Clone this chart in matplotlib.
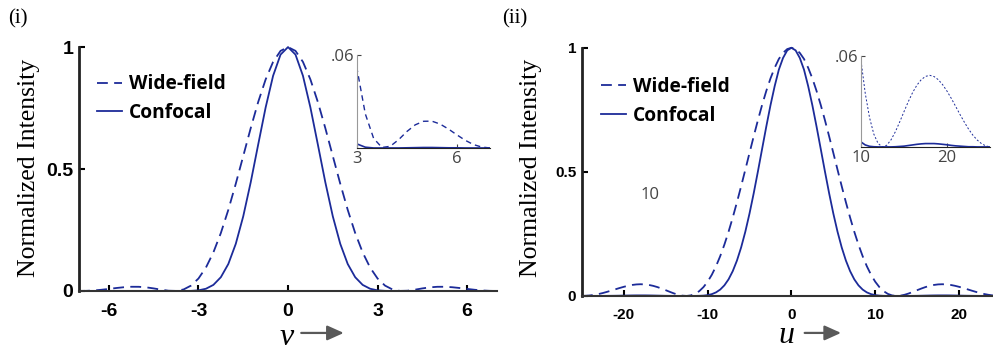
import numpy as np
import matplotlib
matplotlib.use("Agg")
import matplotlib.pyplot as plt

# lateral profile, panel (i)
v = [-7.0, -6.75, -6.5, -6.25, -6.0, -5.75, -5.5, -5.25, -5.0, -4.75, -4.5, -4.25, -4.0,
     -3.75, -3.5, -3.25, -3.0, -2.75, -2.5, -2.25, -2.0, -1.75, -1.5, -1.25, -1.0,
     -0.75, -0.5, -0.25, 0.0, 0.25, 0.5, 0.75, 1.0, 1.25, 1.5, 1.75, 2.0, 2.25, 2.5,
     2.75, 3.0, 3.25, 3.5, 3.75, 4.0, 4.25, 4.5, 4.75, 5.0, 5.25, 5.5, 5.75, 6.0,
     6.25, 6.5, 6.75, 7.0]
wide_v = [0.0000, 0.0006, 0.0022, 0.0050, 0.0085, 0.0122, 0.0154, 0.0173, 0.0172, 0.0149,
          0.0106, 0.0053, 0.0011, 0.0003, 0.0062, 0.0220, 0.0511, 0.0960, 0.1582, 0.2376,
          0.3326, 0.4397, 0.5533, 0.6675, 0.7746, 0.8673, 0.9393, 0.9845, 1.0000, 0.9845,
          0.9393, 0.8673, 0.7746, 0.6675, 0.5533, 0.4397, 0.3326, 0.2376, 0.1582, 0.0960,
          0.0511, 0.0220, 0.0062, 0.0003, 0.0011, 0.0053, 0.0106, 0.0149, 0.0172, 0.0173,
          0.0154, 0.0122, 0.0085, 0.0050, 0.0022, 0.0006, 0.0000]
conf_v = [0.0000, 0.0000, 0.0000, 0.0000, 0.0001, 0.0001, 0.0002, 0.0003, 0.0003, 0.0002,
          0.0001, 0.0000, 0.0000, 0.0000, 0.0000, 0.0005, 0.0026, 0.0092, 0.0250, 0.0565,
          0.1106, 0.1933, 0.3062, 0.4455, 0.6000, 0.7523, 0.8823, 0.9693, 1.0000, 0.9693,
          0.8823, 0.7523, 0.6000, 0.4455, 0.3062, 0.1933, 0.1106, 0.0565, 0.0250, 0.0092,
          0.0026, 0.0005, 0.0000, 0.0000, 0.0000, 0.0000, 0.0001, 0.0002, 0.0003, 0.0003,
          0.0002, 0.0001, 0.0001, 0.0000, 0.0000, 0.0000, 0.0000]

# axial profile, panel (ii)
u = [-25, -24.5, -24, -23.5, -23, -22.5, -22, -21.5, -21, -20.5,
     -20, -19.5, -19, -18.5, -18, -17.5, -17, -16.5, -16, -15.5,
     -15, -14.5, -14, -13.5, -13, -12.5, -12, -11.5, -11, -10.5,
     -10, -9.5, -9, -8.5, -8, -7.5, -7, -6.5, -6, -5.5,
     -5, -4.5, -4, -3.5, -3, -2.5, -2, -1.5, -1, -0.5,
     0,
     0.5, 1, 1.5, 2, 2.5, 3, 3.5, 4, 4.5, 5,
     5.5, 6, 6.5, 7, 7.5, 8, 8.5, 9, 9.5, 10,
     10.5, 11, 11.5, 12, 12.5, 13, 13.5, 14, 14.5, 15,
     15.5, 16, 16.5, 17, 17.5, 18, 18.5, 19, 19.5, 20,
     20.5, 21, 21.5, 22, 22.5, 23, 23.5, 24, 24.5, 25]
wide_u = [0.0000, 0.0007, 0.0022, 0.0046, 0.0078, 0.0118, 0.0165, 0.0215, 0.0268, 0.0320,
          0.0368, 0.0410, 0.0443, 0.0464, 0.0472, 0.0465, 0.0443, 0.0407, 0.0358, 0.0298,
          0.0232, 0.0164, 0.0100, 0.0047, 0.0011, 0.0000, 0.0022, 0.0084, 0.0193, 0.0354,
          0.0573, 0.0853, 0.1196, 0.1601, 0.2067, 0.2589, 0.3162, 0.3776, 0.4422, 0.5089,
          0.5764, 0.6432, 0.7081, 0.7695, 0.8260, 0.8764, 0.9194, 0.9550, 0.9793, 0.9948,
          1.0000,
          0.9948, 0.9793, 0.9550, 0.9194, 0.8764, 0.8260, 0.7695, 0.7081, 0.6432, 0.5764,
          0.5089, 0.4422, 0.3776, 0.3162, 0.2589, 0.2067, 0.1601, 0.1196, 0.0853, 0.0573,
          0.0354, 0.0193, 0.0084, 0.0022, 0.0000, 0.0011, 0.0047, 0.0100, 0.0164, 0.0232,
          0.0298, 0.0358, 0.0407, 0.0443, 0.0465, 0.0472, 0.0464, 0.0443, 0.0410, 0.0368,
          0.0320, 0.0268, 0.0215, 0.0165, 0.0118, 0.0078, 0.0046, 0.0022, 0.0007, 0.0000]
conf_u = [0.0000, 0.0000, 0.0000, 0.0000, 0.0001, 0.0001, 0.0003, 0.0005, 0.0007, 0.0010,
          0.0014, 0.0017, 0.0020, 0.0022, 0.0022, 0.0022, 0.0020, 0.0017, 0.0013, 0.0009,
          0.0005, 0.0003, 0.0001, 0.0000, 0.0000, 0.0000, 0.0000, 0.0001, 0.0004, 0.0013,
          0.0033, 0.0073, 0.0143, 0.0256, 0.0427, 0.0670, 0.1000, 0.1426, 0.1956, 0.2590,
          0.3322, 0.4137, 0.5014, 0.5921, 0.6823, 0.7681, 0.8453, 0.9120, 0.9591, 0.9896,
          1.0000,
          0.9896, 0.9591, 0.9120, 0.8453, 0.7681, 0.6823, 0.5921, 0.5014, 0.4137, 0.3322,
          0.2590, 0.1956, 0.1426, 0.1000, 0.0670, 0.0427, 0.0256, 0.0143, 0.0073, 0.0033,
          0.0013, 0.0004, 0.0001, 0.0000, 0.0000, 0.0000, 0.0000, 0.0001, 0.0003, 0.0005,
          0.0009, 0.0013, 0.0017, 0.0020, 0.0022, 0.0022, 0.0022, 0.0020, 0.0017, 0.0014,
          0.0010, 0.0007, 0.0005, 0.0003, 0.0001, 0.0001, 0.0000, 0.0000, 0.0000, 0.0000]

panels = [
    dict(x=v, wide=wide_v, conf=conf_v, xlim=(-7, 7), xticks=[-6, -3, 0, 3, 6],
         xname="v", tag="(i)", inset_xlim=(3, 7), inset_xticks=[3, 6]),
    dict(x=u, wide=wide_u, conf=conf_u, xlim=(-25, 25), xticks=[-20, -10, 0, 10, 20],
         xname="u", tag="(ii)", inset_xlim=(10, 25), inset_xticks=[10, 20]),
]

blue = "#1c2b99"
tick_font = ["Liberation Sans Narrow", "Liberation Sans"]

fig = plt.figure(figsize=(9.93, 3.54), dpi=100)

main_rects = [[0.0796, 0.178, 0.4209, 0.689], [0.586, 0.164, 0.422, 0.701]]
inset_rects = [[0.3595, 0.582, 0.134, 0.263], [0.867, 0.585, 0.130, 0.257]]
tick_sizes = [14, 11]
leg_pos = [(0.002, 0.959), (0.0036, 0.952)]
ylab_pos = [(-0.093, 0.504), (-0.095, 0.516)]
xlab_x = [0.4976, 0.489]
xlab_y = [-0.222, -0.19]
arrow_y = [-0.172, -0.149]
arrow_x = [(0.525, 0.64), (0.525, 0.625)]
tag_x = [0.008, 0.506]

for k, p in enumerate(panels):
    ax = fig.add_axes(main_rects[k])
    ax.plot(p["x"], p["wide"], color=blue, lw=1.3, dashes=(6, 3.5), label="Wide-field",
            clip_on=False)
    ax.plot(p["x"], p["conf"], color=blue, lw=1.3, label="Confocal", clip_on=False)
    ax.set_xlim(*p["xlim"])
    ax.set_ylim(0, 1)
    ax.set_xticks(p["xticks"])
    ax.set_yticks([0, 0.5, 1])
    ax.set_xticklabels([str(t) for t in p["xticks"]])
    ax.set_yticklabels(["0", "0.5", "1"])
    for lab in ax.get_xticklabels() + ax.get_yticklabels():
        lab.set_family(tick_font)
        lab.set_weight("bold")
        lab.set_fontsize(tick_sizes[k])
    ax.tick_params(direction="in", length=4, width=1.5, pad=9)
    ax.tick_params(axis="y", pad=4)
    ax.spines["top"].set_visible(False)
    ax.spines["right"].set_visible(False)
    ax.spines["left"].set_linewidth(2)
    ax.spines["bottom"].set_linewidth(1.5)
    ax.spines["left"].set_color("#222222")
    ax.spines["bottom"].set_color("#333333")
    ax.set_ylabel("Normalized Intensity", family="Liberation Serif", fontsize=18.5)
    ax.yaxis.set_label_coords(*ylab_pos[k])
    ax.text(xlab_x[k], xlab_y[k], p["xname"], transform=ax.transAxes,
            family="Liberation Serif", style="italic", fontsize=23, ha="center",
            va="baseline")
    ax.annotate("", xy=(arrow_x[k][1], arrow_y[k]), xytext=(arrow_x[k][0], arrow_y[k]),
                xycoords="axes fraction",
                arrowprops=dict(arrowstyle="-|>,head_length=1.0,head_width=0.45",
                                color="#595959", lw=1.6))
    ax.legend(loc="upper left", bbox_to_anchor=leg_pos[k], frameon=False,
              handlelength=1.3, handletextpad=0.37, labelspacing=0.45,
              prop=dict(family="Open Sans", weight="bold", size=13.8))
    fig.text(tag_x[k], 0.948, p["tag"], family="Liberation Serif", fontsize=15,
             va="center", ha="left")

    ins = fig.add_axes(inset_rects[k])
    wide_ls = (0, (4, 3)) if k == 0 else (0, (2, 2))
    wide_lw = 1.0 if k == 0 else 0.7
    ins.plot(p["x"], p["wide"], color=blue, lw=wide_lw, linestyle=wide_ls)
    ins.plot(p["x"], p["conf"], color=blue, lw=1.2)
    ins.set_xlim(*p["inset_xlim"])
    ins.set_ylim(0, 0.06)
    ins.set_xticks(p["inset_xticks"])
    ins.set_yticks([0.06])
    ins.set_yticklabels([".06"])
    for lab in ins.get_xticklabels() + ins.get_yticklabels():
        lab.set_family("Open Sans")
        lab.set_fontsize(12)
        lab.set_color("#444444")
    ins.tick_params(direction="in", length=3, width=0.8, pad=2, colors="#444444",
                    labelcolor="#444444")
    ins.patch.set_alpha(0)
    ins.spines["top"].set_visible(False)
    ins.spines["right"].set_visible(False)
    ins.spines["left"].set_color("#999999")
    ins.spines["bottom"].set_color("#222222")

# stray label in panel (ii)
fig.text(0.655, 0.448, "10", family="Open Sans", fontsize=12, color="#444444",
         ha="center", va="center")

fig.savefig("out.png", dpi=100)
